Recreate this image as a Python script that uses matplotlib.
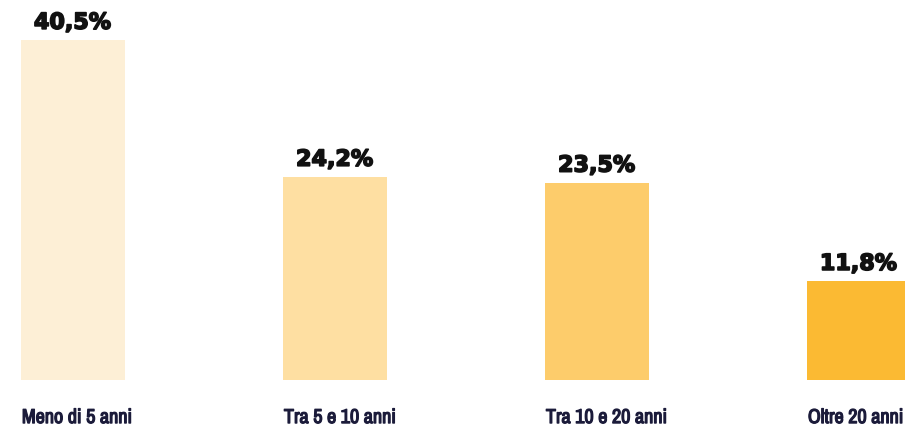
import matplotlib
matplotlib.use("Agg")
import matplotlib.pyplot as plt
import matplotlib.patheffects as pe
from matplotlib import font_manager

categories = ["Meno di 5 anni", "Tra 5 e 10 anni", "Tra 10 e 20 anni", "Oltre 20 anni"]
values = [40.5, 24.2, 23.5, 11.8]
labels = ["40,5%", "24,2%", "23,5%", "11,8%"]
colors = ["#FDEFD6", "#FEDFA2", "#FDCC6B", "#FBBA33"]

# look for a narrow face for the category labels
names = sorted({f.name for f in font_manager.fontManager.ttflist})
narrow = [n for n in names if "Narrow" in n or "Condensed" in n]
cat_font = narrow[0] if narrow else "DejaVu Sans"

fig = plt.figure(figsize=(9.05, 4.29), dpi=100)
ax = fig.add_axes([0, 49 / 429, 1, 380 / 429])

x = list(range(len(categories)))
bw = 104 / 262
ax.bar(x, values, width=bw, color=colors)

for xi, v, lab in zip(x, values, labels):
    ax.annotate(lab, (xi, v), xytext=(0, 5), textcoords="offset points",
                ha="center", va="bottom", fontsize=16, fontweight="heavy",
                family="DejaVu Sans", color="#111111",
                path_effects=[pe.withStroke(linewidth=1.2, foreground="#111111")])

for xi, cat in zip(x, categories):
    ax.annotate(cat, (xi - bw / 2, 0), xytext=(1, -31), textcoords="offset points",
                ha="left", va="baseline", fontsize=14.5 if narrow else 11,
                fontweight="bold", fontstretch="condensed",
                family=cat_font, color="#1B1B3A", annotation_clip=False,
                path_effects=[pe.withStroke(linewidth=0.9, foreground="#1B1B3A")])

ax.set_xlim(-72.5 / 262, (905 - 72.5) / 262)
ax.set_ylim(0, 380 / 8.4)
ax.axis("off")

fig.savefig("out.png", dpi=100)
